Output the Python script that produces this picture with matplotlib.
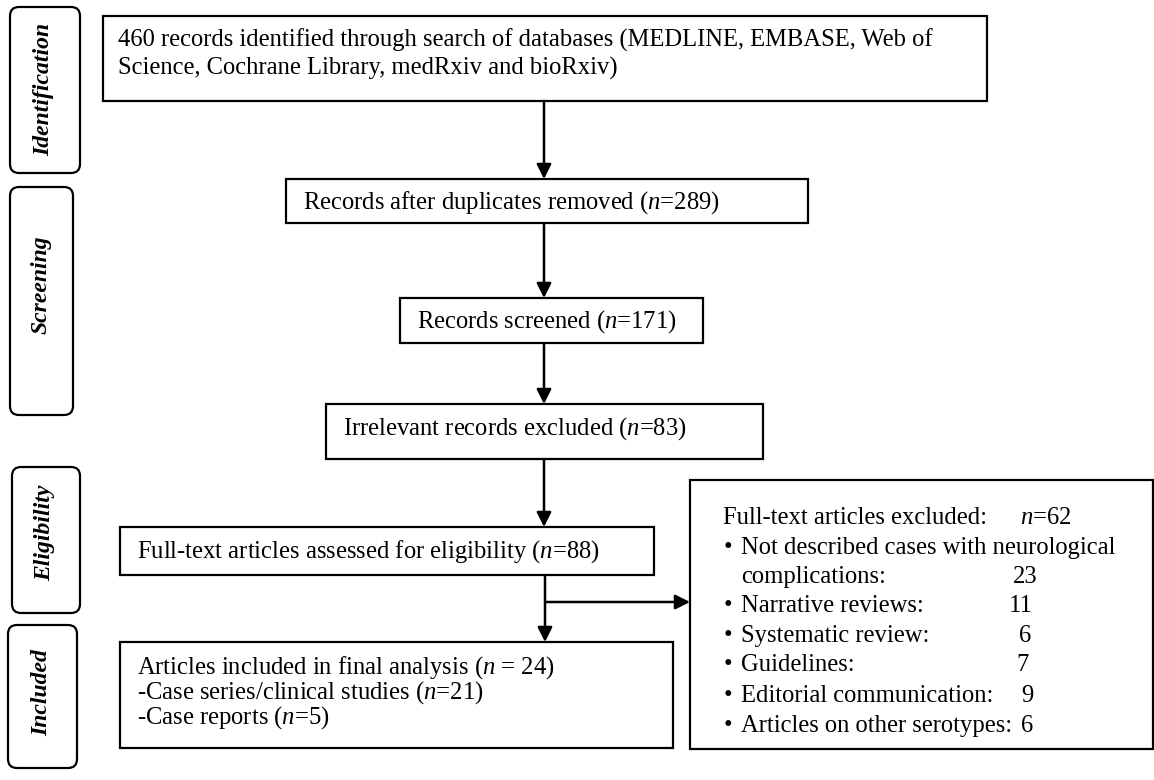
import matplotlib
matplotlib.use('Agg')
import matplotlib.pyplot as plt
from matplotlib.patches import Rectangle, FancyBboxPatch

plt.rcParams['font.family'] = 'Liberation Serif'
plt.rcParams['mathtext.fontset'] = 'custom'
plt.rcParams['mathtext.rm'] = 'Liberation Serif'
plt.rcParams['mathtext.it'] = 'Liberation Serif:italic'

# stages and counts
stages = ['Identification', 'Screening', 'Eligibility', 'Included']
databases = 'MEDLINE, EMBASE, Web of Science, Cochrane Library, medRxiv and bioRxiv'
n_identified = 460
n_after_dup = 289
n_screened = 171
n_irrelevant = 83
n_fulltext = 88
n_included = 24
n_case_series = 21
n_case_reports = 5
n_excluded = 62
excl_reasons = ['Not described cases with neurological', 'Narrative reviews:',
                'Systematic review:', 'Guidelines:', 'Editorial communication:',
                'Articles on other serotypes:']
excl_counts = [23, 11, 6, 7, 9, 6]

fig = plt.figure(figsize=(11.54, 7.80), dpi=100)
ax = fig.add_axes([0, 0, 1, 1])
ax.set_xlim(0, 1154)
ax.set_ylim(780, 0)
ax.axis('off')

FS = 17.7
LW = 1.6


def box(x0, y0, x1, y1):
    ax.add_patch(Rectangle((x0, y0), x1 - x0, y1 - y0, fill=False, lw=LW, ec='black'))


def arrow(x0, y0, x1, y1):
    ax.annotate('', xy=(x1, y1), xytext=(x0, y0),
                arrowprops=dict(arrowstyle='-|>', lw=1.8, color='black',
                                mutation_scale=22, shrinkA=0, shrinkB=0))


def nt(n):
    return r'($\mathit{n}$=%d)' % n


# side stage labels
label_boxes = [(10, 7, 80, 173, 44, 89), (10, 187, 73, 415, 41, 285),
               (12, 467, 80, 613, 45, 533), (8, 625, 77, 768, 42, 693)]
for name, (x0, y0, x1, y1, tx, ty) in zip(stages, label_boxes):
    ax.add_patch(FancyBboxPatch((x0, y0), x1 - x0, y1 - y0,
                                boxstyle='round,pad=0,rounding_size=9',
                                fill=False, lw=LW, ec='black'))
    ax.text(tx, ty, name, rotation=90, ha='center', va='center',
            fontsize=17, fontweight='bold', fontstyle='italic')

# box 1
box(103, 16, 987, 101)
ax.text(118, 40, '%d records identified through search of databases (%s' % (n_identified, databases.split(' Science')[0]),
        fontsize=FS, va='center', ha='left')
ax.text(118, 68, 'Science' + databases.split(' Science')[1] + ')', fontsize=FS, va='center', ha='left')

# box 2
box(286, 179, 808, 223)
ax.text(303, 203, 'Records after duplicates removed ' + nt(n_after_dup), fontsize=FS, va='center')

# box 3
box(400, 298, 703, 343)
ax.text(417, 322, 'Records screened ' + nt(n_screened), fontsize=FS, va='center')

# box 4
box(326, 404, 763, 459)
ax.text(343, 429, 'Irrelevant records excluded ' + nt(n_irrelevant), fontsize=FS, va='center')

# box 5
box(120, 527, 654, 575)
ax.text(137, 552, 'Full-text articles assessed for eligibility ' + nt(n_fulltext), fontsize=FS, va='center')

# box 6
box(120, 642, 673, 748)
ax.text(137, 668, r'Articles included in final analysis ($\mathit{n}$ = %d)' % n_included, fontsize=FS, va='center')
ax.text(137, 693, '-Case series/clinical studies ' + nt(n_case_series), fontsize=FS, va='center')
ax.text(137, 718, '-Case reports ' + nt(n_case_reports), fontsize=FS, va='center')

# box 7
box(690, 480, 1153, 749)
ax.text(723, 518, 'Full-text articles excluded:', fontsize=FS, va='center')
ax.text(1020, 518, r'$\mathit{n}$=%d' % n_excluded, fontsize=FS, va='center')
line_y = [548, 606, 636, 665, 696, 726]
num_x = [1025, 1021, 1025, 1023, 1027, 1027]
for i, (reason, cnt) in enumerate(zip(excl_reasons, excl_counts)):
    ax.text(728, line_y[i], u'\u2022', fontsize=FS, va='center', ha='center')
    ax.text(741, line_y[i], reason, fontsize=FS, va='center')
    ny = 577 if i == 0 else line_y[i]
    ax.text(num_x[i], ny, str(cnt), fontsize=FS, va='center', ha='center')
ax.text(741, 577, 'complications:', fontsize=FS, va='center')

# arrows
arrow(544, 101, 544, 179)
arrow(544, 223, 544, 298)
arrow(544, 343, 544, 404)
arrow(544, 459, 544, 527)
arrow(545, 575, 545, 642)
arrow(545, 602, 690, 602)

fig.savefig('out.png', dpi=100)
